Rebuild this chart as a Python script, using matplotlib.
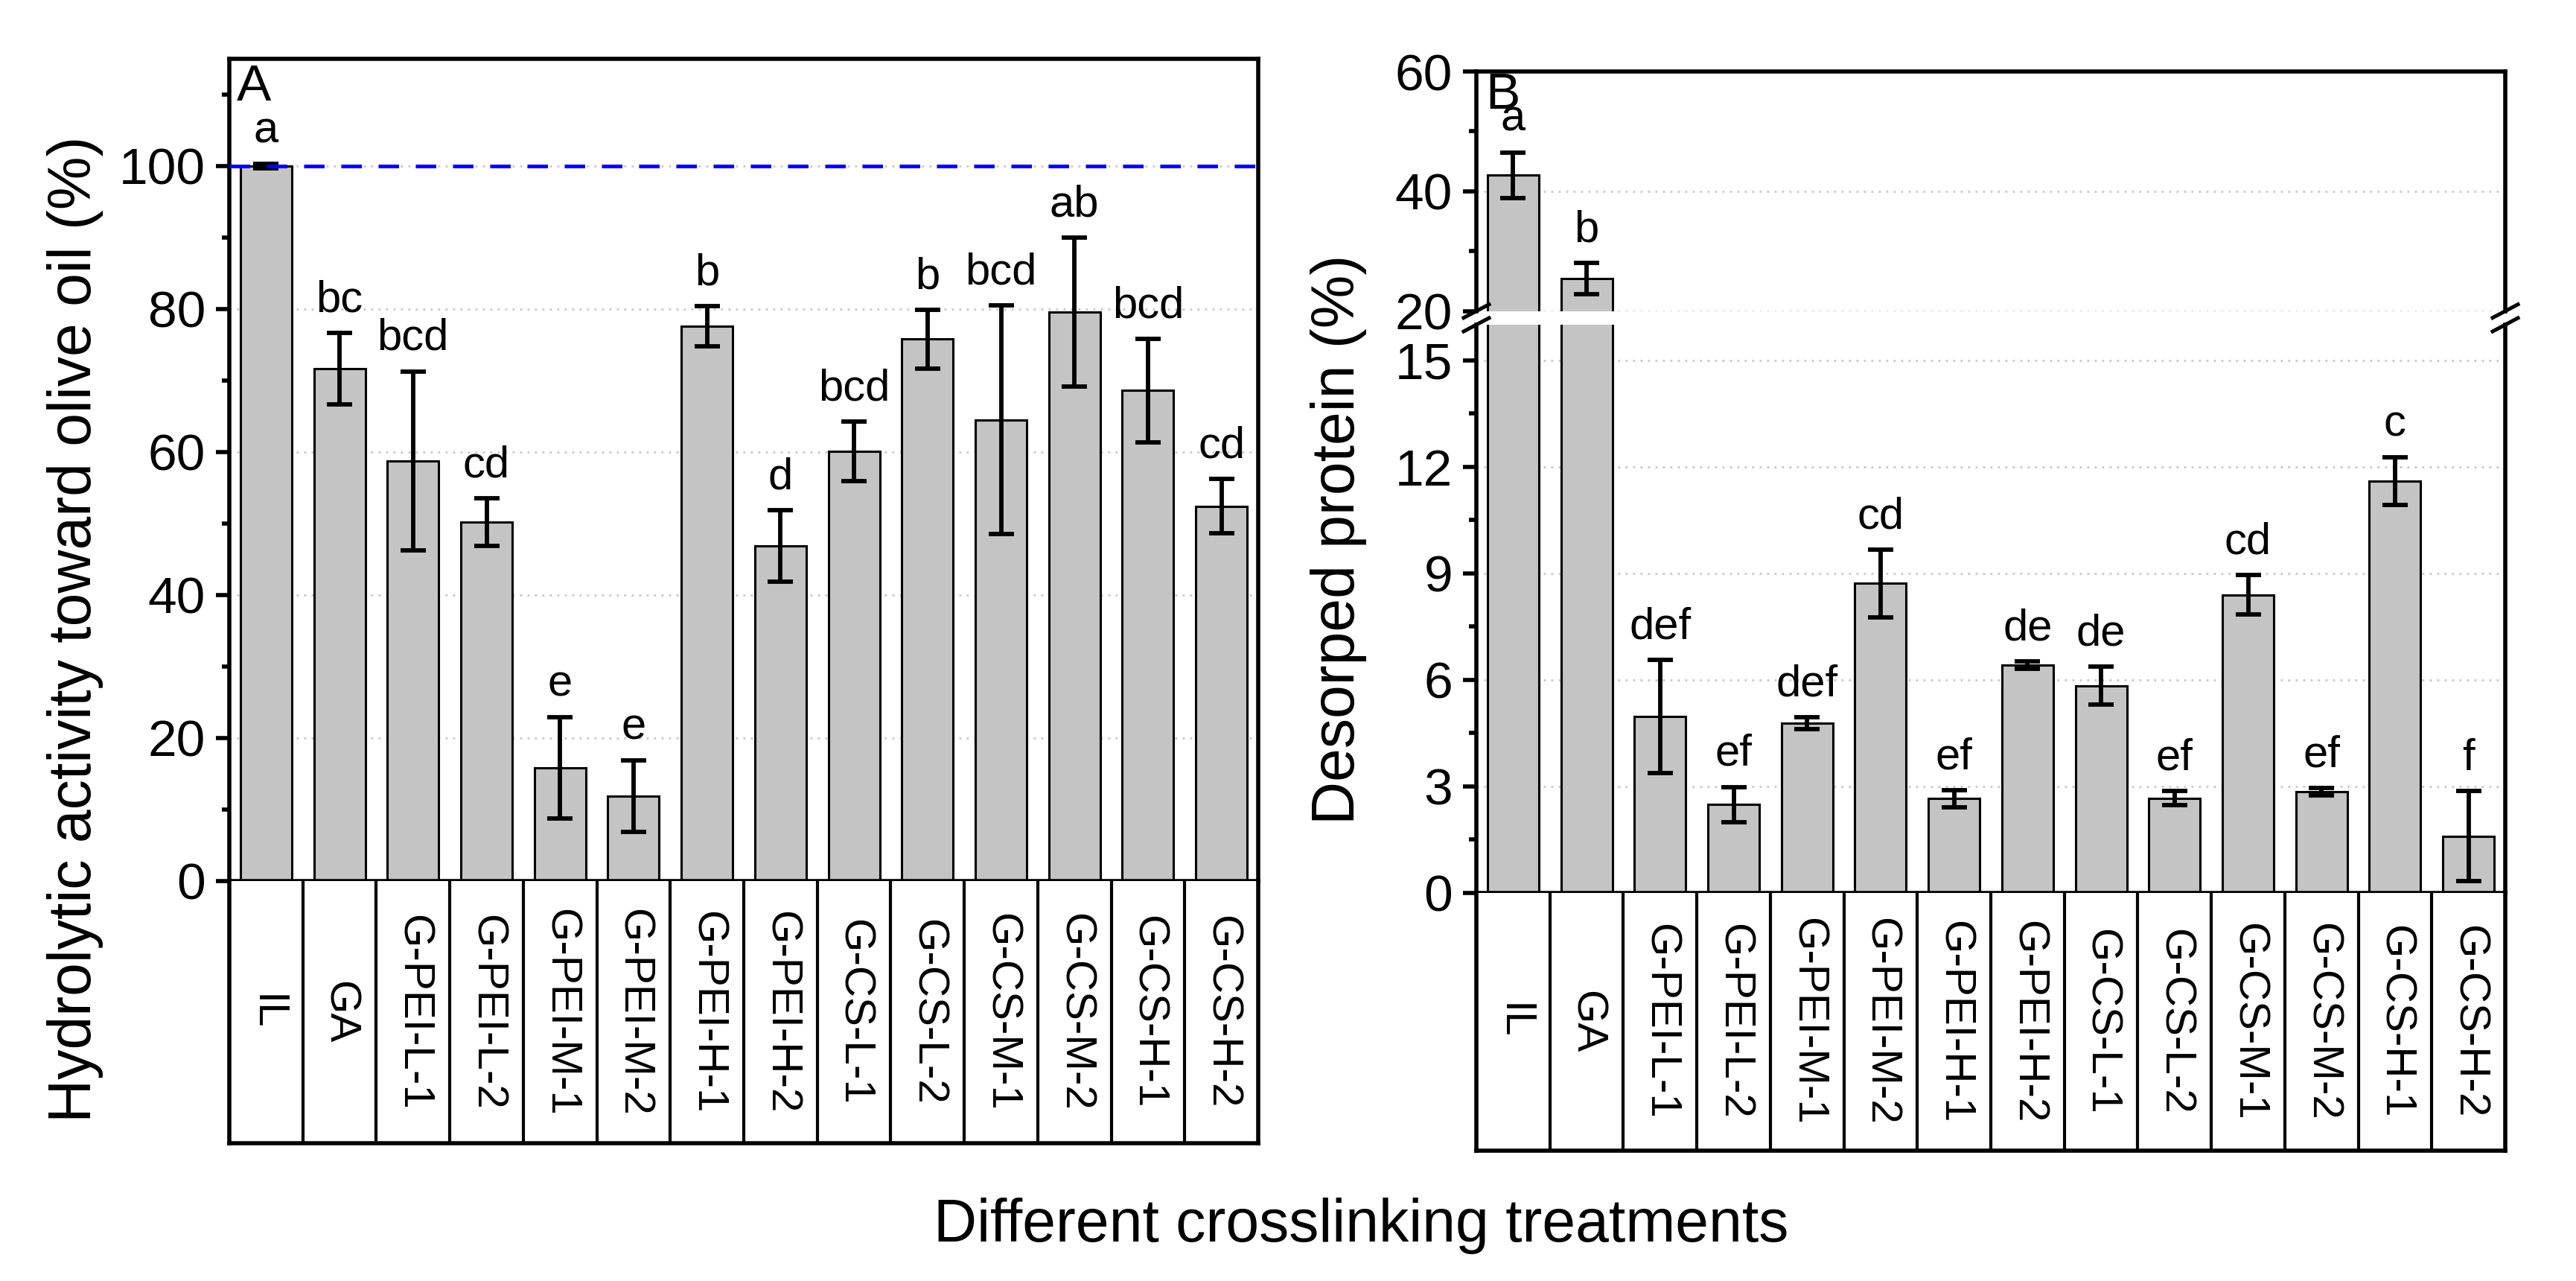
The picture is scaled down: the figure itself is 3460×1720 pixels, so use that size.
import matplotlib
matplotlib.use('Agg')
import matplotlib.pyplot as plt
from matplotlib.ticker import MultipleLocator
import numpy as np

plt.rcParams['font.family'] = ['Liberation Sans', 'DejaVu Sans']

# donnees
categories = ['IL', 'GA', 'G-PEI-L-1', 'G-PEI-L-2', 'G-PEI-M-1', 'G-PEI-M-2', 'G-PEI-H-1',
              'G-PEI-H-2', 'G-CS-L-1', 'G-CS-L-2', 'G-CS-M-1', 'G-CS-M-2', 'G-CS-H-1', 'G-CS-H-2']

activity = [100.0, 71.7, 58.8, 50.2, 15.8, 11.9, 77.6, 46.9, 60.1, 75.8, 64.5, 79.6, 68.6, 52.4]
activity_err = [0.3, 5.0, 12.5, 3.3, 7.1, 5.0, 2.8, 5.0, 4.2, 4.1, 16.0, 10.4, 7.2, 3.8]
activity_letters = ['a', 'bc', 'bcd', 'cd', 'e', 'e', 'b', 'd', 'bcd', 'b', 'bcd', 'ab', 'bcd', 'cd']

protein = [42.7, 25.4, 4.96, 2.48, 4.77, 8.71, 2.65, 6.41, 5.83, 2.66, 8.39, 2.85, 11.59, 1.59]
protein_err = [3.8, 2.6, 1.6, 0.5, 0.17, 0.95, 0.24, 0.1, 0.54, 0.2, 0.55, 0.1, 0.67, 1.27]
protein_letters = ['a', 'b', 'def', 'ef', 'def', 'cd', 'ef', 'de', 'de', 'ef', 'cd', 'ef', 'c', 'f']

W, H = 3460, 1720
x = np.arange(len(categories))


def box(left, top, right, bottom):
    # pixels -> fraction de figure
    return [left / W, 1 - bottom / H, (right - left) / W, (bottom - top) / H]


def style(ax, major, minor):
    for s in ax.spines.values():
        s.set_linewidth(2.0)
    ax.yaxis.set_major_locator(MultipleLocator(major))
    ax.yaxis.set_minor_locator(MultipleLocator(minor))
    ax.tick_params(axis='y', which='major', direction='out', length=6.5, width=2.0, labelsize=25, pad=5)
    ax.tick_params(axis='y', which='minor', direction='out', length=3.6, width=2.0)
    ax.set_xticks([])
    ax.set_xlim(-0.5, len(categories) - 0.5)
    ax.yaxis.grid(True, which='major', color='#c8c8c8', linestyle=(0, (1, 2.6)), linewidth=1.0)
    ax.set_axisbelow(True)


def bars(ax, vals, errs):
    ax.bar(x, vals, width=0.7, color='#c4c4c4', edgecolor='black', linewidth=1.1, zorder=2)
    ax.errorbar(x, vals, yerr=errs, fmt='none', ecolor='black', elinewidth=2.1,
                capsize=6.2, capthick=2.1, zorder=3)


def letters(ax, vals, errs, labs, keep):
    for i in range(len(vals)):
        if keep(vals[i]):
            ax.annotate(labs[i], (x[i], vals[i] + errs[i]), xytext=(0, 6), textcoords='offset points',
                        ha='center', va='bottom', fontsize=21.5)


def table(ax_t):
    ax_t.set_xlim(-0.5, len(categories) - 0.5)
    ax_t.set_ylim(0, 1)
    ax_t.set_xticks([])
    ax_t.set_yticks([])
    ax_t.spines['top'].set_visible(False)
    for s in ['left', 'right', 'bottom']:
        ax_t.spines[s].set_linewidth(2.0)
    for b in np.arange(0.5, len(categories) - 0.5, 1):
        ax_t.axvline(b, color='black', lw=1.5)
    for i, c in enumerate(categories):
        ax_t.text(i, 0.5, c, rotation=270, ha='center', va='center', fontsize=21)


fig = plt.figure(figsize=(W / 200, H / 200), dpi=200)

# panneau A
axA = fig.add_axes(box(308, 79, 1690, 1183))
bars(axA, activity, activity_err)
axA.set_ylim(0, 115)
style(axA, 20, 10)
axA.axhline(100, color='#0000ff', lw=1.8, linestyle=(0, (5.5, 4.5)), zorder=4)
letters(axA, activity, activity_err, activity_letters, lambda v: True)
axA.text(0.007, 0.995, 'A', transform=axA.transAxes, ha='left', va='top', fontsize=25)
table(fig.add_axes(box(308, 1183, 1690, 1535)))

# panneau B (axe coupe)
axB_top = fig.add_axes(box(1983, 96, 3365, 417.7))
axB_bot = fig.add_axes(box(1983, 436, 3365, 1198.6))
for ax in (axB_top, axB_bot):
    bars(ax, protein, protein_err)
axB_top.set_ylim(20, 60)
axB_bot.set_ylim(0, 16)
style(axB_top, 20, 10)
style(axB_bot, 3, 1.5)
axB_top.spines['bottom'].set_visible(False)
axB_bot.spines['top'].set_visible(False)
letters(axB_top, protein, protein_err, protein_letters, lambda v: v > 16)
letters(axB_bot, protein, protein_err, protein_letters, lambda v: v <= 16)
axB_top.text(0.009, 1.0, 'B', transform=axB_top.transAxes, ha='left', va='top', fontsize=25)

# traits de coupure
dx = 17 / 1382
for ax, hpx in ((axB_top, 321.7), (axB_bot, 762.6)):
    dy = 9 / hpx
    y0 = 0 if ax is axB_top else 1
    for xs in (0, 1):
        ax.plot([xs - dx, xs + dx], [y0 - dy, y0 + dy], transform=ax.transAxes, color='black',
                lw=1.8, clip_on=False, zorder=5)
table(fig.add_axes(box(1983, 1198.6, 3365, 1545)))

fig.text(101 / W, 1 - 845 / H, 'Hydrolytic activity toward olive oil (%)', rotation=90,
         ha='center', va='center', fontsize=29)
fig.text(1798 / W, 1 - 724 / H, 'Desorped protein (%)', rotation=90,
         ha='center', va='center', fontsize=29)
fig.text(1828 / W, 1 - 1667 / H, 'Different crosslinking treatments', ha='center', va='baseline',
         fontsize=29)

fig.savefig('out.png', dpi=200, facecolor='white')
